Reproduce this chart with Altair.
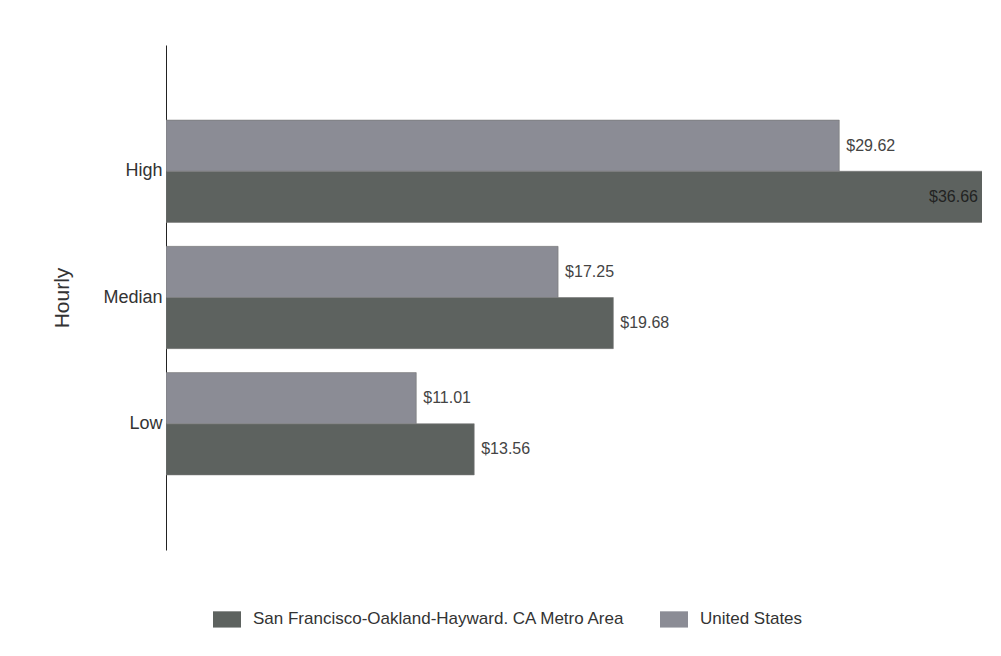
import altair as alt
import pandas as pd

categories = ["High", "Median", "Low"]
series = ["San Francisco-Oakland-Hayward. CA Metro Area", "United States"]
sf_values = [36.66, 19.68, 13.56]
us_values = [29.62, 17.25, 11.01]

rows = []
for c, v in zip(categories, sf_values):
    rows.append({"cat": c, "series": series[0], "value": v, "ord": 1})
for c, v in zip(categories, us_values):
    rows.append({"cat": c, "series": series[1], "value": v, "ord": 0})
df = pd.DataFrame(rows)

XMAX = 35.9
FONT = "Liberation Sans Narrow, Liberation Sans, Arial"

base = alt.Chart(df).encode(
    y=alt.Y("cat:N", sort=categories,
            scale=alt.Scale(paddingInner=0.19, paddingOuter=0.595),
            axis=alt.Axis(title="Hourly", ticks=False, labelFontSize=18,
                          labelColor="#333", labelFont=FONT, titleFont=FONT,
                          titleFontSize=21, titleFontWeight="normal", titleColor="#333",
                          titlePadding=30, domainColor="#222", labelPadding=4)),
    yOffset=alt.YOffset("ord:O", scale=alt.Scale(paddingInner=0, paddingOuter=0)),
)

bars = base.mark_bar(clip=True, stroke="#777", strokeWidth=0.6).encode(
    x=alt.X("value:Q", scale=alt.Scale(domain=[0, XMAX], nice=False, zero=True),
            axis=None),
    color=alt.Color("series:N", sort=series,
                    scale=alt.Scale(domain=series, range=["#5d625f", "#8b8c95"]),
                    legend=alt.Legend(title=None, orient="none", direction="horizontal",
                                      legendX=47, legendY=560,
                                      symbolType="M-1,-0.58H1V0.58H-1Z",
                                      symbolSize=784, symbolStrokeWidth=0,
                                      labelFontSize=17, labelFont=FONT, labelColor="#333",
                                      labelLimit=600, columnPadding=34, labelOffset=12,
                                      symbolOpacity=1)),
)

labels_out = base.transform_filter("datum.value <= %f" % XMAX).mark_text(
    align="left", dx=7, fontSize=16, font=FONT, color="#444"
).encode(
    x=alt.X("value:Q"),
    text=alt.Text("lbl:N"),
).transform_calculate(lbl="'$' + format(datum.value, '.2f')")

labels_in = base.transform_filter("datum.value > %f" % XMAX).transform_calculate(
    lbl="'$' + format(datum.value, '.2f')", xp="min(datum.value, %f)" % XMAX
).mark_text(align="right", dx=-4, fontSize=16, font=FONT, color="#222").encode(
    x=alt.X("xp:Q"),
    text=alt.Text("lbl:N"),
)

chart = alt.layer(bars, labels_out, labels_in).properties(
    width=816, height=505,
    autosize=alt.AutoSizeParams(type="none"),
    padding={"left": 166, "top": 45, "right": 19, "bottom": 106},
    background="white",
).configure_view(stroke=None)

chart.save("out.html", embed_options={"renderer": "svg", "actions": False})
